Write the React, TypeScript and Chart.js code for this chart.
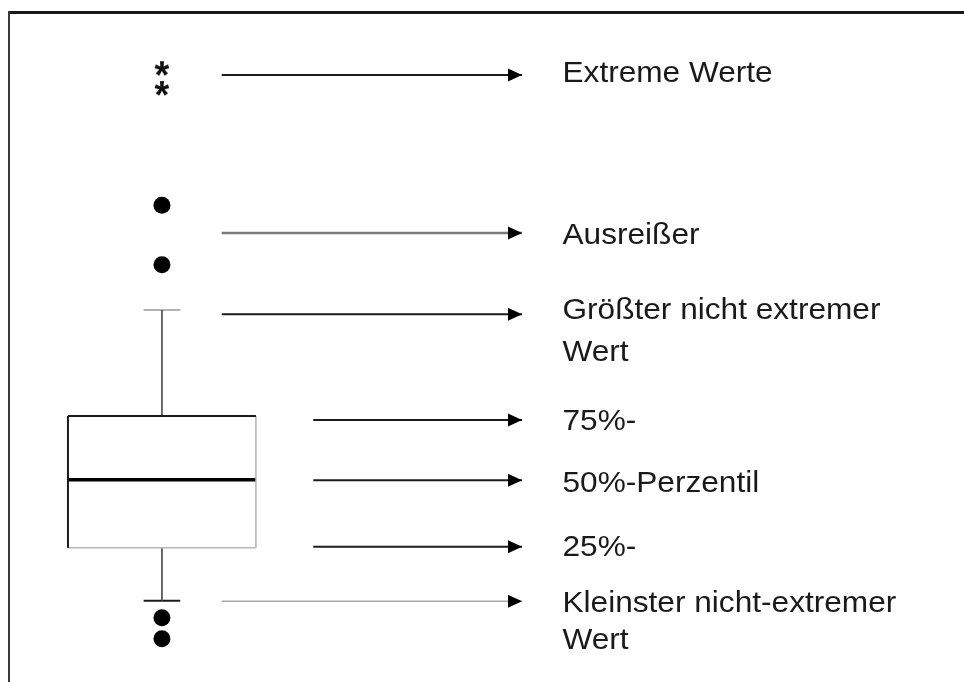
import { useEffect, useRef } from "react";
import { Chart, registerables } from "chart.js";

Chart.register(...registerables);

// ---- Box plot values (value units on a 0–120 scale) ----
const extremeValues = [108.0, 104.5];
const outlierValues = [83.9, 73.4];
const upperWhisker = 65.45;
const quartile3 = 46.8;
const median = 35.6;
const quartile1 = 23.6;
const lowerWhisker = 14.3;
const lowerPoints = [11.3, 7.6];

// ---- Annotation labels ----
const labelLines: string[][] = [
  ["Extreme Werte"],
  ["Ausreißer"],
  ["Größter nicht extremer", "Wert"],
  ["75%-"],
  ["50%-Perzentil"],
  ["25%-"],
  ["Kleinster nicht-extremer", "Wert"],
];
const labelLevels = [106.9, 78.4, 65.2, 45.8, 34.9, 23.5, 13.8];
const arrowLevels = [106.8, 79.0, 64.7, 46.1, 35.5, 23.8, 14.2];

// ---- layout (axis units, x 0–100, y 0–120) ----
const X_MAX = 100;
const Y_MAX = 120;
const boxCenter = 16.8;
const boxHalf = 9.75;
const capHalf = 1.9;
const arrowStartFar = 23.0;
const arrowStartNear = 32.5;
const arrowTip = 54.15;
const labelX = 58.35;
const lineGaps = [40, 40, 42, 40, 40, 40, 37];
const arrowStarts = [arrowStartFar, arrowStartFar, arrowStartFar, arrowStartNear, arrowStartNear, arrowStartNear, arrowStartFar];
const arrowColors = ["#1c1c1c", "#7a7a7a", "#1c1c1c", "#1c1c1c", "#1c1c1c", "#1c1c1c", "#a8a8a8"];
const arrowWidths = [2, 2.5, 2, 2, 2, 2, 1.5];

function seg(x0: number, y0: number, x1: number, y1: number, color: string, width: number, extra: any = {}) {
  return {
    data: [{ x: x0, y: y0 }, { x: x1, y: y1 }],
    showLine: true,
    borderColor: color,
    borderWidth: width,
    pointRadius: 0,
    pointHoverRadius: 0,
    fill: false,
    borderCapStyle: "butt",
    ...extra,
  };
}

function makeAsterisk(): HTMLCanvasElement {
  const c = document.createElement("canvas");
  c.width = 24;
  c.height = 24;
  const ctx = c.getContext("2d")!;
  ctx.font = 'bold 38px "Liberation Sans", Arial, sans-serif';
  const m = ctx.measureText("*");
  const w = m.actualBoundingBoxLeft + m.actualBoundingBoxRight;
  const h = m.actualBoundingBoxAscent + m.actualBoundingBoxDescent;
  ctx.fillStyle = "#111";
  ctx.fillText("*", 12 - w / 2 + m.actualBoundingBoxLeft, 12 - h / 2 + m.actualBoundingBoxAscent);
  return c;
}

const framePlugin = {
  id: "frame",
  beforeDraw(chart: any) {
    const ctx = chart.ctx;
    ctx.save();
    ctx.fillStyle = "#ffffff";
    ctx.fillRect(0, 0, chart.width, chart.height);
    ctx.strokeStyle = "#1a1a1a";
    ctx.lineWidth = 3;
    ctx.beginPath();
    ctx.moveTo(8, 12.5);
    ctx.lineTo(chart.width, 12.5);
    ctx.stroke();
    ctx.strokeStyle = "#3a3a3a";
    ctx.lineWidth = 2;
    ctx.beginPath();
    ctx.moveTo(9, 11);
    ctx.lineTo(9, chart.height);
    ctx.stroke();
    ctx.restore();
  },
};

const arrowPlugin = {
  id: "arrowheads",
  afterDatasetsDraw(chart: any) {
    const ctx = chart.ctx;
    chart.data.datasets.forEach((ds: any, i: number) => {
      if (!ds.isArrow) return;
      const meta = chart.getDatasetMeta(i);
      const pt = meta.data[meta.data.length - 1];
      if (!pt) return;
      ctx.save();
      ctx.fillStyle = "#000";
      ctx.beginPath();
      ctx.moveTo(pt.x, pt.y);
      ctx.lineTo(pt.x - 14, pt.y - 6.5);
      ctx.lineTo(pt.x - 14, pt.y + 6.5);
      ctx.closePath();
      ctx.fill();
      ctx.restore();
    });
  },
};

const labelPlugin = {
  id: "labels",
  afterDraw(chart: any) {
    const ctx = chart.ctx;
    const xs = chart.scales.x;
    const ys = chart.scales.y;
    ctx.save();
    ctx.font = '29px "Liberation Sans", Arial, sans-serif';
    ctx.fillStyle = "#1a1a1a";
    ctx.textBaseline = "middle";
    ctx.textAlign = "left";
    labelLines.forEach((lines, i) => {
      const px = xs.getPixelForValue(labelX);
      const py = ys.getPixelForValue(labelLevels[i]);
      lines.forEach((line, j) => {
        ctx.save();
        ctx.translate(px, py + j * lineGaps[i]);
        ctx.scale(1.09, 1);
        ctx.fillText(line, 0, 0);
        ctx.restore();
      });
    });
    ctx.restore();
  },
};

export default function App() {
  const ref = useRef<HTMLCanvasElement | null>(null);

  useEffect(() => {
    if (!ref.current) return;
    const star = makeAsterisk();
    const x0 = boxCenter - boxHalf;
    const x1 = boxCenter + boxHalf;

    const datasets: any[] = [
      // box edges
      seg(x0, quartile3, x1, quartile3, "#1a1a1a", 2),
      seg(x0, quartile1, x0, quartile3, "#1a1a1a", 2),
      seg(x1, quartile1, x1, quartile3, "#b0b0b0", 1.5),
      seg(x0, quartile1, x1, quartile1, "#b8b8b8", 1.5),
      // median
      seg(x0, median, x1, median, "#000", 3.5),
      // whiskers
      seg(boxCenter, quartile3, boxCenter, upperWhisker, "#3a3a3a", 1.5),
      seg(boxCenter - capHalf, upperWhisker, boxCenter + capHalf, upperWhisker, "#9a9a9a", 1.5),
      seg(boxCenter, quartile1, boxCenter, lowerWhisker, "#3a3a3a", 1.5),
      seg(boxCenter - capHalf, lowerWhisker, boxCenter + capHalf, lowerWhisker, "#1a1a1a", 2),
      // arrows
      ...arrowLevels.map((lv, i) =>
        seg(arrowStarts[i], lv, arrowTip, lv, arrowColors[i], arrowWidths[i], { isArrow: true })
      ),
      // outliers
      {
        data: [...outlierValues, ...lowerPoints].map((v) => ({ x: boxCenter, y: v })),
        showLine: false,
        pointRadius: 8.5,
        pointHoverRadius: 8.5,
        pointBackgroundColor: "#000",
        pointBorderColor: "#000",
        pointBorderWidth: 0,
      },
      // extremes
      {
        data: extremeValues.map((v) => ({ x: boxCenter, y: v })),
        showLine: false,
        pointStyle: star,
        pointRadius: 10,
        pointHoverRadius: 10,
      },
    ];

    const chart = new Chart(ref.current, {
      type: "scatter",
      data: { datasets },
      options: {
        animation: false,
        responsive: false,
        events: [],
        layout: { padding: 0, autoPadding: false },
        plugins: { legend: { display: false }, tooltip: { enabled: false } },
        scales: {
          x: { type: "linear", min: 0, max: X_MAX, display: false },
          y: { type: "linear", min: 0, max: Y_MAX, display: false },
        },
      },
      plugins: [framePlugin, arrowPlugin, labelPlugin],
    } as any);
    return () => chart.destroy();
  }, []);

  return (
    <div style={{ position: "absolute", left: 0, top: 0, width: 964, height: 682, background: "#fff" }}>
      <canvas ref={ref} width={964} height={682} style={{ display: "block" }} />
    </div>
  );
}
